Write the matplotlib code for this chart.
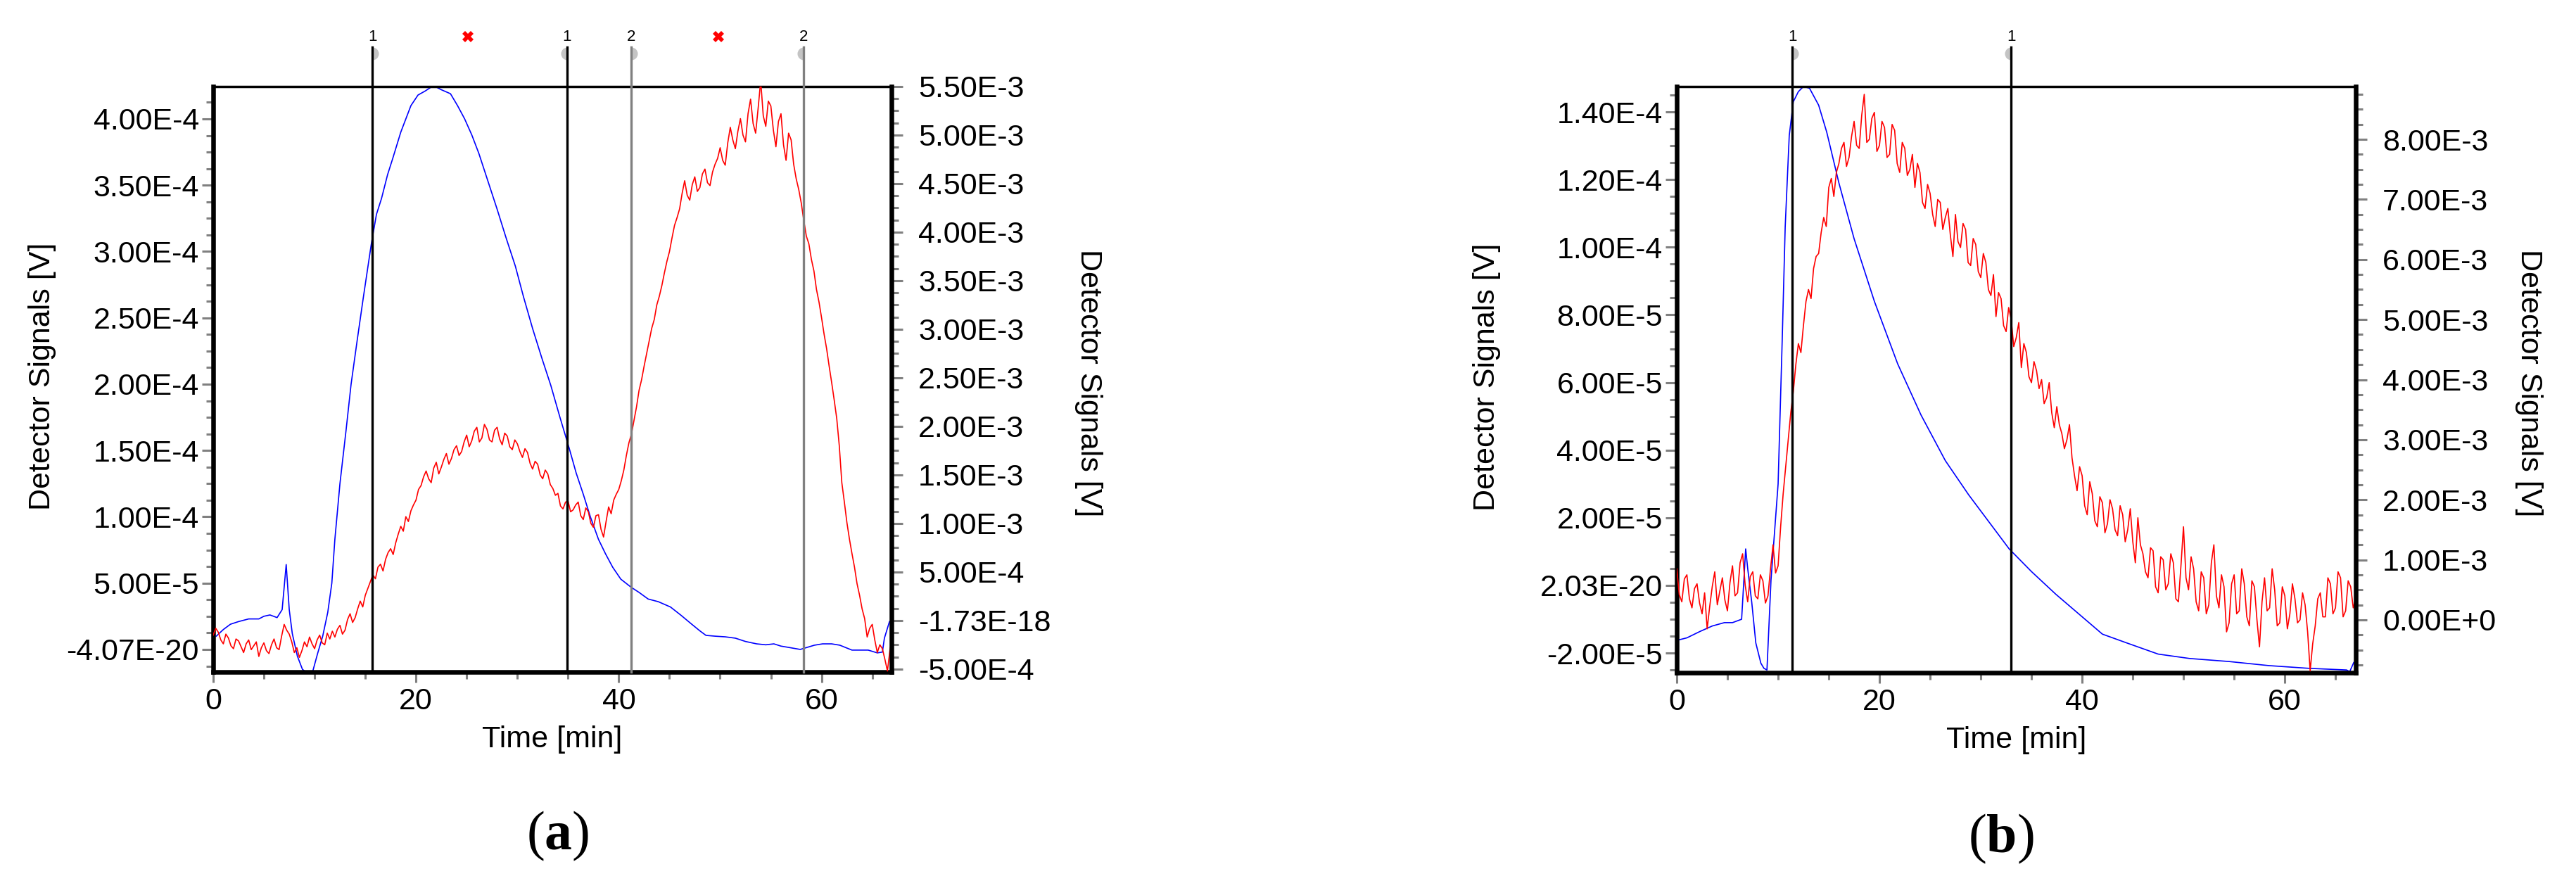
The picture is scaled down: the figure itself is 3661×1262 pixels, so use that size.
import matplotlib
matplotlib.use("Agg")
import matplotlib.pyplot as plt
import numpy as np
from matplotlib.ticker import FixedLocator, MultipleLocator

plt.rcParams["font.family"] = ["Liberation Sans", "DejaVu Sans"]
plt.rcParams["mathtext.fontset"] = "custom"
plt.rcParams["mathtext.bf"] = "Liberation Serif:bold"
plt.rcParams["mathtext.rm"] = "Liberation Serif"

# ---------------------------------------------------------------------------
# Panel (a)
# ---------------------------------------------------------------------------
# blue trace (left axis), values in 1e-5 V
blue_a_t = [0.3, 1.0, 1.7, 2.5, 3.5, 4.5, 5.0, 5.6, 6.3, 6.8, 7.2, 7.5, 7.8,
            8.3, 8.8, 9.3, 9.8, 10.3, 10.8, 11.3, 11.7, 12.0, 12.5, 13.1,
            13.6, 14.2, 14.8, 15.6, 16.1, 16.6, 17.2, 17.7, 18.5, 19.5, 20.2,
            20.9, 21.5, 22.0, 22.5, 23.4, 24.1, 24.8, 25.5, 26.2, 27.1, 28.0,
            28.9, 29.8, 30.6, 31.5, 32.4, 33.3, 34.2, 35.1, 35.8, 36.5, 37.2,
            38.0, 38.7, 39.4, 40.2, 41.2, 42.0, 42.9, 43.9, 45.1, 46.1, 47.2,
            48.0, 48.6, 49.5, 50.5, 51.5, 52.5, 53.6, 54.5, 55.3, 56.0, 56.7,
            57.9, 59.3, 60.1, 61.0, 61.8, 63.0, 64.0, 64.6, 65.5, 66.0, 66.2,
            66.7]
blue_a_v = [1.0, 1.5, 1.9, 2.1, 2.3, 2.3, 2.5, 2.6, 2.4, 3.0, 6.4, 3.0, 1.2,
            -0.5, -1.5, -1.8, -1.7, -0.3, 1.0, 2.8, 5.0, 8.3, 12.5, 16.5,
            20.0, 23.3, 26.5, 30.6, 32.8, 34.0, 35.8, 37.0, 39.0, 41.0, 41.8,
            42.1, 42.4, 42.4, 42.2, 41.9, 41.0, 40.0, 38.8, 37.4, 35.3, 33.2,
            31.0, 28.9, 26.6, 24.2, 22.0, 19.9, 17.5, 15.2, 13.3, 11.7, 10.0,
            8.3, 7.2, 6.2, 5.3, 4.7, 4.3, 3.8, 3.6, 3.2, 2.6, 1.9,
            1.4, 1.06, 1.0, 0.95, 0.85, 0.6, 0.42, 0.35, 0.42, 0.25, 0.16,
            0.0, 0.32, 0.42, 0.42, 0.32, -0.05, -0.05, -0.05, -0.26, -0.2, 0.85,
            2.1]
# red trace (right axis), values in mV, one sample every 0.25 min from 0
red_a_v = [
    -0.15, -0.08, -0.12, -0.20, -0.24, -0.14, -0.18, -0.26, -0.29, -0.19,
    -0.21, -0.27, -0.33, -0.24, -0.20, -0.30, -0.26, -0.22, -0.37, -0.28,
    -0.23, -0.31, -0.34, -0.25, -0.19, -0.28, -0.30, -0.16, -0.04, -0.10,
    -0.14, -0.22, -0.33, -0.28, -0.38, -0.31, -0.22, -0.27, -0.17, -0.24,
    -0.29, -0.20, -0.15, -0.23, -0.25, -0.13, -0.19, -0.11, -0.17, -0.09,
    -0.05, -0.14, -0.10, 0.01, 0.07, -0.02, 0.03, 0.12, 0.20, 0.14,
    0.26, 0.33, 0.40, 0.47, 0.43, 0.55, 0.58, 0.51, 0.63, 0.70,
    0.74, 0.68, 0.80, 0.89, 0.97, 0.92, 1.07, 1.02, 1.13, 1.19,
    1.24, 1.35, 1.39, 1.48, 1.54, 1.46, 1.42, 1.57, 1.63, 1.51,
    1.58, 1.66, 1.72, 1.61, 1.67, 1.76, 1.80, 1.70, 1.74, 1.84,
    1.91, 1.79, 1.85, 1.95, 1.99, 1.84, 1.88, 2.02, 1.97, 1.86,
    1.84, 1.96, 1.99, 1.87, 1.81, 1.93, 1.90, 1.79, 1.76, 1.86,
    1.82, 1.74, 1.68, 1.77, 1.73, 1.62, 1.56, 1.64, 1.61, 1.50,
    1.46, 1.55, 1.51, 1.40, 1.36, 1.29, 1.31, 1.18, 1.15, 1.22,
    1.23, 1.12, 1.14, 1.19, 1.22, 1.08, 1.04, 1.16, 1.12, 1.00,
    0.96, 1.08, 1.09, 0.94, 0.86, 1.02, 1.17, 1.10, 1.24, 1.30,
    1.35, 1.44, 1.55, 1.70, 1.83, 1.92, 2.06, 2.20, 2.37, 2.48,
    2.62, 2.75, 2.88, 3.01, 3.10, 3.25, 3.34, 3.45, 3.58, 3.70,
    3.80, 3.94, 4.07, 4.15, 4.24, 4.40, 4.53, 4.38, 4.33, 4.49,
    4.57, 4.42, 4.46, 4.60, 4.65, 4.51, 4.48, 4.62, 4.70, 4.76,
    4.87, 4.74, 4.69, 4.92, 5.08, 4.95, 4.86, 5.04, 5.17, 5.00,
    4.93, 5.22, 5.37, 5.12, 5.02, 5.28, 5.56, 5.20, 5.09, 5.35,
    5.30, 5.05, 4.88, 5.14, 5.22, 4.90, 4.74, 5.02, 4.95, 4.70,
    4.55, 4.44, 4.30, 4.12, 3.96, 3.88, 3.72, 3.60, 3.41, 3.28,
    3.12, 2.95, 2.80, 2.62, 2.45, 2.27, 2.08, 1.80, 1.42, 1.22,
    1.01, 0.84, 0.69, 0.55, 0.38, 0.26, 0.12, 0.02, -0.17, -0.08,
    -0.04, -0.20, -0.33, -0.25, -0.29, -0.40, -0.52, -0.30, -0.18]
cursor_a_t = [15.7, 34.9, 41.2, 58.2]
cursor_a_lab = ["1", "1", "2", "2"]
cursor_a_col = ["black", "black", "#808080", "#808080"]
cursor_a_side = ["right", "left", "right", "left"]
peak_a_t = [25.1, 49.8]

left_a_ticks = [0.0, 5e-5, 1e-4, 1.5e-4, 2e-4, 2.5e-4, 3e-4, 3.5e-4, 4e-4]
left_a_labels = ["-4.07E-20", "5.00E-5", "1.00E-4", "1.50E-4", "2.00E-4",
                 "2.50E-4", "3.00E-4", "3.50E-4", "4.00E-4"]
right_a_ticks = [-5e-4, 0.0, 5e-4, 1e-3, 1.5e-3, 2e-3, 2.5e-3, 3e-3, 3.5e-3,
                 4e-3, 4.5e-3, 5e-3, 5.5e-3]
right_a_labels = ["-5.00E-4", "-1.73E-18", "5.00E-4", "1.00E-3", "1.50E-3",
                  "2.00E-3", "2.50E-3", "3.00E-3", "3.50E-3", "4.00E-3",
                  "4.50E-3", "5.00E-3", "5.50E-3"]

# ---------------------------------------------------------------------------
# Panel (b)
# ---------------------------------------------------------------------------
blue_b_t = [0.2, 1.0, 2.3, 3.5, 4.7, 5.5, 6.4, 6.8, 7.0, 7.4, 7.8, 8.3, 8.6,
            8.9, 9.3, 10.0, 10.4, 10.7, 11.1, 11.5, 12.0, 12.5, 13.1, 14.0,
            14.8, 16.0, 17.5, 19.5, 21.8, 24.1, 26.5, 28.8, 31.1, 32.8, 35.0,
            37.4, 39.7, 42.0, 44.4, 47.5, 50.6, 54.5, 58.4, 62.3, 66.1, 66.4,
            66.8]
blue_b_v = [-1.61, -1.55, -1.36, -1.2, -1.1, -1.1, -1.0, 1.08, 0.5, -0.5, -1.7,
            -2.3, -2.45, -2.5, 0.16, 3.0, 7.2, 10.6, 13.3, 14.3, 14.6, 14.75,
            14.7, 14.2, 13.4, 11.9, 10.25, 8.4, 6.55, 5.04, 3.69, 2.68, 1.76,
            1.08, 0.41, -0.26, -0.85, -1.44, -1.7, -2.03, -2.16, -2.25, -2.37,
            -2.45, -2.5, -2.55, -2.28]
red_b_v = [
    0.85, 0.42, 0.30, 0.68, 0.75, 0.35, 0.20, 0.52, 0.60, 0.28,
    0.10, 0.45, -0.15, 0.22, 0.55, 0.80, 0.25, 0.48, 0.70, 0.33,
    0.15, 0.62, 0.90, 0.40, 0.45, 0.95, 1.10, 0.58, 0.30, 0.72,
    0.80, 0.40, 0.35, 0.75, 0.65, 0.28, 0.40, 0.85, 1.25, 0.78,
    0.90, 1.55, 2.10, 2.55, 3.00, 3.45, 3.80, 4.25, 4.60, 4.45,
    4.90, 5.30, 5.50, 5.35, 5.85, 6.05, 6.10, 6.45, 6.70, 6.55,
    7.20, 7.35, 7.05, 7.45, 7.60, 7.85, 7.95, 7.55, 7.70, 8.05,
    8.30, 7.90, 7.85, 8.40, 8.75, 7.95, 8.00, 8.35, 8.45, 7.80,
    7.90, 8.30, 8.20, 7.70, 7.75, 8.25, 8.15, 7.60, 7.45, 7.95,
    7.85, 7.40, 7.50, 7.75, 7.20, 7.60, 7.45, 6.95, 6.85, 7.25,
    7.10, 6.75, 6.55, 7.00, 6.95, 6.50, 6.70, 6.85, 6.40, 6.05,
    6.75, 6.30, 6.20, 6.60, 6.50, 5.95, 5.90, 6.35, 6.25, 5.80,
    5.70, 6.10, 5.95, 5.50, 5.40, 5.75, 5.05, 5.45, 5.35, 4.90,
    4.80, 5.20, 5.00, 4.55, 4.70, 4.95, 4.20, 4.60, 4.45, 4.05,
    3.95, 4.30, 4.15, 3.85, 4.00, 3.60, 3.70, 3.95, 3.45, 3.20,
    3.55, 3.25, 3.10, 2.85, 3.00, 3.25, 2.70, 2.40, 2.15, 2.55,
    2.40, 1.90, 1.75, 2.30, 2.10, 1.65, 1.55, 2.05, 1.95, 1.45,
    1.60, 2.00, 1.85, 1.50, 1.40, 1.90, 1.75, 1.30, 1.50, 1.85,
    1.30, 0.95, 1.70, 1.25, 1.10, 0.80, 0.70, 1.20, 1.15, 0.55,
    0.45, 1.05, 1.00, 0.50, 0.60, 1.10, 0.95, 0.35, 0.30, 0.90,
    1.55, 0.70, 0.50, 1.05, 0.85, 0.30, 0.15, 0.80, 0.70, 0.10,
    0.25, 0.95, 1.25, 0.40, 0.20, 0.75, 0.55, -0.20, -0.05, 0.60,
    0.75, 0.10, 0.15, 0.85, 0.60, 0.05, -0.10, 0.65, 0.55, 0.00,
    -0.45, 0.30, 0.70, 0.15, 0.20, 0.85, 0.50, -0.10, -0.05, 0.55,
    0.40, -0.15, 0.10, 0.60, 0.35, -0.05, 0.00, 0.45, 0.25, -0.20,
    -0.85, -0.40, -0.10, 0.35, 0.45, 0.05, 0.05, 0.70, 0.60, 0.10,
    0.20, 0.80, 0.70, 0.05, 0.15, 0.65, 0.55, 0.20, 0.35]
cursor_b_t = [11.4, 33.0]
cursor_b_lab = ["1", "1"]
cursor_b_col = ["black", "black"]
cursor_b_side = ["right", "left"]

left_b_ticks = [-2e-5, 0.0, 2e-5, 4e-5, 6e-5, 8e-5, 1e-4, 1.2e-4, 1.4e-4]
left_b_labels = ["-2.00E-5", "2.03E-20", "2.00E-5", "4.00E-5", "6.00E-5",
                 "8.00E-5", "1.00E-4", "1.20E-4", "1.40E-4"]
right_b_ticks = [0.0, 1e-3, 2e-3, 3e-3, 4e-3, 5e-3, 6e-3, 7e-3, 8e-3]
right_b_labels = ["0.00E+0", "1.00E-3", "2.00E-3", "3.00E-3", "4.00E-3",
                  "5.00E-3", "6.00E-3", "7.00E-3", "8.00E-3"]

RED_DT = 0.25  # sampling step of the red traces [min]
FS = 31
TICK_GRAY = "#808080"


def style_axis(ax, side, ticks, labels, minor_step, pad):
    ax.yaxis.set_major_locator(FixedLocator(ticks))
    ax.set_yticklabels(labels)
    ax.yaxis.set_minor_locator(MultipleLocator(minor_step))
    ax.tick_params(axis="y", which="major", direction="out", length=11.5,
                   width=2.2, color=TICK_GRAY, labelsize=FS, pad=pad,
                   left=(side == "left"), right=(side == "right"),
                   labelleft=(side == "left"), labelright=(side == "right"))
    ax.tick_params(axis="y", which="minor", direction="out", length=7.5,
                   width=2.2, color=TICK_GRAY,
                   left=(side == "left"), right=(side == "right"))


def draw_panel(fig, rect, blue_t, blue_v, red_v, xmax, ylim_l, ylim_r,
               lt, ll, lminor, rt, rl, rminor, cur_t, cur_lab, cur_col,
               cur_side, peaks, ylab_x, tag, tag_xy):
    ax = fig.add_axes(rect)
    ax2 = ax.twinx()

    ax.plot(blue_t, np.array(blue_v) * 1e-5, color="#0000ff", lw=1.2)
    red_t = np.arange(len(red_v)) * RED_DT
    ax2.plot(red_t, np.array(red_v) * 1e-3, color="#ff0000", lw=1.2)

    ax.set_xlim(0, xmax)
    ax.set_ylim(*ylim_l)
    ax2.set_ylim(*ylim_r)

    ax.xaxis.set_major_locator(MultipleLocator(20))
    ax.xaxis.set_minor_locator(MultipleLocator(5))
    ax.tick_params(axis="x", which="major", direction="out", length=11,
                   width=2.2, color=TICK_GRAY, labelsize=FS, pad=5)
    ax.tick_params(axis="x", which="minor", direction="out", length=7,
                   width=2.2, color=TICK_GRAY)
    style_axis(ax, "left", lt, ll, lminor, 3)
    style_axis(ax2, "right", rt, rl, rminor, 16)

    for s in ("left", "bottom"):
        ax.spines[s].set_linewidth(4.7)
    ax.spines["top"].set_linewidth(2.5)
    ax.spines["right"].set_visible(False)
    for s in ("left", "bottom", "top"):
        ax2.spines[s].set_visible(False)
    ax2.spines["right"].set_linewidth(4.7)

    ax.set_xlabel("Time [min]", fontsize=FS, labelpad=10)
    ax.text(ylab_x[0], 0.505, "Detector Signals [V]", transform=ax.transAxes,
            rotation=90, ha="center", va="center", fontsize=FS)
    ax.text(ylab_x[1], 0.494, "Detector Signals [V]", transform=ax.transAxes,
            rotation=270, ha="center", va="center", fontsize=FS)

    # cursor lines with their numbers and grey handles above the plot
    trans = ax2.get_xaxis_transform()
    for t, lab, col, side in zip(cur_t, cur_lab, cur_col, cur_side):
        ax2.axvline(t, ymin=0, ymax=1.067, color=col, lw=2.4, clip_on=False,
                    zorder=5)
        ax2.text(t, 1.085, lab, transform=trans, ha="center", va="center",
                 fontsize=16, clip_on=False)
        ax2.plot([t], [1.057], transform=trans, marker="o", ms=13,
                 fillstyle=side, markerfacecolor="#c4c4c4",
                 markerfacecoloralt="none", markeredgewidth=0,
                 clip_on=False, zorder=4)
    for t in peaks:
        ax2.plot([t], [1.085], transform=trans, marker="X", ms=11,
                 color="#ff0000", markeredgewidth=0, clip_on=False)

    fig.text(tag_xy[0], tag_xy[1], "(" + tag + ")", ha="center", va="center",
             fontsize=56, family="Liberation Serif")
    return ax, ax2


W, H = 3662, 1262
fig = plt.figure(figsize=(W / 100, H / 100), dpi=100)


def frac_rect(x0, x1, y0, y1):
    return [x0 / W, 1 - y1 / H, (x1 - x0) / W, (y1 - y0) / H]


draw_panel(fig, frac_rect(303, 1267, 123, 955), blue_a_t, blue_a_v, red_a_v,
           66.9, (-1.7e-5, 4.244e-4), (-5.3e-4, 5.5e-3),
           left_a_ticks, left_a_labels, 1.25e-5,
           right_a_ticks, right_a_labels, 1.25e-4,
           cursor_a_t, cursor_a_lab, cursor_a_col, cursor_a_side, peak_a_t,
           (-0.252, 1.290), r"$\mathbf{a}$", (793 / W, 1 - 1188 / H))

draw_panel(fig, frac_rect(2383, 3348, 123, 956), blue_b_t, blue_b_v, red_b_v,
           67.0, (-2.58e-5, 1.475e-4), (-8.8e-4, 8.88e-3),
           left_b_ticks, left_b_labels, 5e-6,
           right_b_ticks, right_b_labels, 2.5e-4,
           cursor_b_t, cursor_b_lab, cursor_b_col, cursor_b_side, [],
           (-0.280, 1.255), r"$\mathbf{b}$", (2844 / W, 1 - 1192 / H))

fig.savefig("out.png", dpi=100)
